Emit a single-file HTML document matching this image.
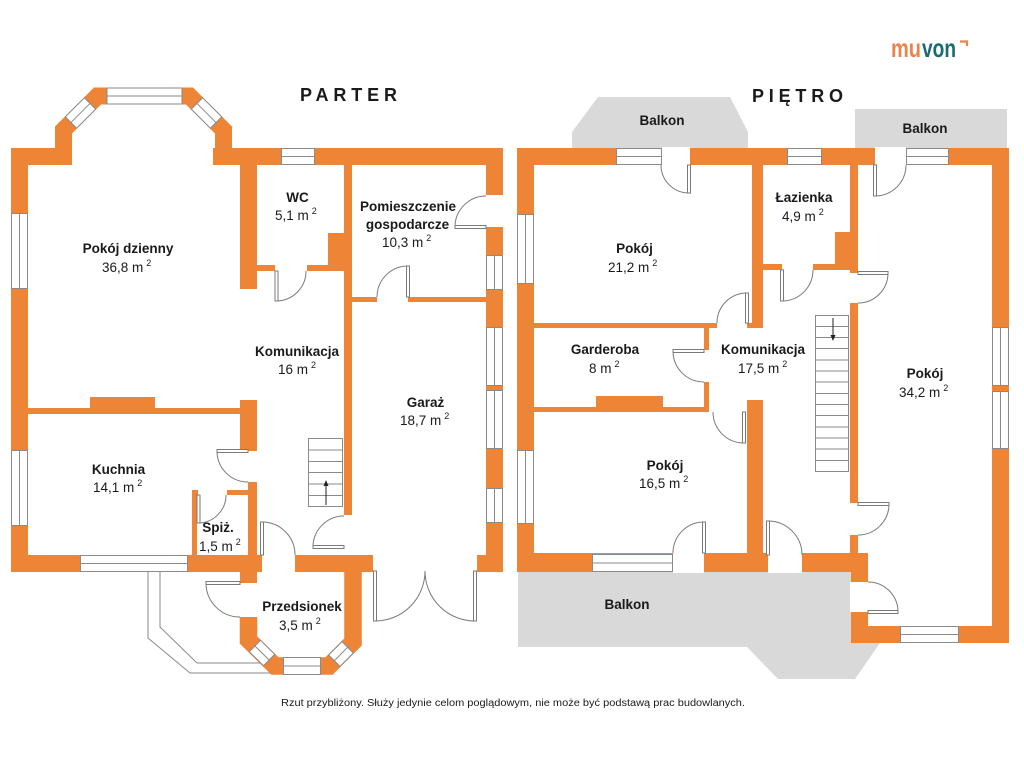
<!DOCTYPE html>
<html><head><meta charset="utf-8">
<style>
html,body{margin:0;padding:0;background:#fff;}
svg{display:block}
text{font-family:"Liberation Sans",sans-serif;fill:#1a1a1a}
.n{font-weight:bold;font-size:13.5px}
.a{font-size:13.5px}
.s{font-size:9px}
</style></head><body>
<svg width="1024" height="768" viewBox="0 0 1024 768" xmlns="http://www.w3.org/2000/svg">
<rect width="1024" height="768" fill="#fff"/>

<!-- Balconies (gray) -->
<g fill="#D9D9D9">
<polygon points="572,148 572,132 598,97 730,97 748,132 748,148"/>
<rect x="855" y="109" width="152" height="39"/>
<polygon points="518,572 851,572 851,643 880,643 855,679 778,679 747,647 518,647"/>
</g>

<!-- Terrace outline (parter) -->
<g fill="none" stroke="#8a8a8a" stroke-width="1">
<polyline points="148,572 148,638 190,673 270,673"/>
<polyline points="160,572 160,627 197,663 262,663"/>
</g>

<!-- PARTER walls -->
<g fill="#ED8436">
<rect x="11" y="148" width="17" height="424"/>
<rect x="11" y="148" width="61" height="17"/>
<rect x="213" y="148" width="290" height="17"/>
<rect x="240" y="165" width="17" height="124"/>
<rect x="344" y="165" width="8" height="350"/>
<rect x="328" y="233" width="24" height="38"/>
<rect x="257" y="265" width="18" height="6"/>
<rect x="307" y="265" width="21" height="6"/>
<rect x="352" y="297" width="25" height="5"/>
<rect x="408" y="297" width="78" height="5"/>
<rect x="486" y="148" width="17" height="424"/>
<rect x="28" y="408" width="212" height="6"/>
<rect x="90" y="397" width="65" height="11"/>
<rect x="240" y="400" width="17" height="51"/>
<rect x="248" y="482" width="9" height="73"/>
<rect x="192" y="490" width="5" height="65"/>
<rect x="192" y="490" width="6" height="5"/>
<rect x="227" y="490" width="21" height="5"/>
<rect x="11" y="555" width="69" height="17"/>
<rect x="188" y="555" width="74" height="17"/>
<rect x="295" y="555" width="78" height="17"/>
<rect x="477" y="555" width="26" height="17"/>
<rect x="240" y="572" width="17" height="11"/>
</g>
<g fill="none" stroke="#ED8436" stroke-linejoin="miter">
<path d="M63.5,165 V130 L97.5,96 H189.5 L223.5,130 V165" stroke-width="17"/>
<path d="M248.5,617 V640 L275,666 H329 L353,642 V572" stroke-width="17.5"/>
</g>

<!-- PIETRO walls -->
<g fill="#ED8436">
<rect x="517" y="148" width="17" height="424"/>
<rect x="517" y="148" width="492" height="17"/>
<rect x="752" y="165" width="11" height="163"/>
<rect x="534" y="323" width="183" height="5"/>
<rect x="747" y="323" width="16" height="5"/>
<rect x="704" y="328" width="5" height="22"/>
<rect x="704" y="382" width="5" height="30"/>
<rect x="534" y="407" width="175" height="5"/>
<rect x="596" y="396" width="67" height="11"/>
<rect x="747" y="400" width="16" height="155"/>
<rect x="517" y="553" width="351" height="19"/>
<rect x="763" y="264" width="19" height="6"/>
<rect x="813" y="264" width="37" height="6"/>
<rect x="835" y="232" width="15" height="38"/>
<rect x="850" y="165" width="8" height="390"/>
<rect x="851" y="555" width="17" height="88"/>
<rect x="851" y="626" width="158" height="17"/>
<rect x="992" y="148" width="17" height="495"/>
</g>

<!-- Door openings (white) -->
<g fill="#fff">
<rect x="486" y="195" width="17" height="32"/>
<rect x="662" y="147" width="28" height="19"/>
<rect x="875" y="147" width="31" height="19"/>
<rect x="673" y="552" width="31" height="21"/>
<rect x="768" y="552" width="34" height="21"/>
<rect x="849" y="273" width="10" height="30"/>
<rect x="849" y="503" width="10" height="32"/>
<rect x="850" y="582" width="19" height="30"/>
</g>

<!-- Windows axis aligned -->
<g fill="#fff" stroke="#8a8a8a" stroke-width="1">
<rect x="281.5" y="148.5" width="33" height="16"/><line x1="281.5" y1="156.5" x2="314.5" y2="156.5"/>
<rect x="11.5" y="213.5" width="16" height="75"/><line x1="19.5" y1="213.5" x2="19.5" y2="288.5"/>
<rect x="11.5" y="450.5" width="16" height="75"/><line x1="19.5" y1="450.5" x2="19.5" y2="525.5"/>
<rect x="486.5" y="255.5" width="16" height="34"/><line x1="494.5" y1="255.5" x2="494.5" y2="289.5"/>
<rect x="486.5" y="327.5" width="16" height="58"/><line x1="494.5" y1="327.5" x2="494.5" y2="385.5"/>
<rect x="486.5" y="390.5" width="16" height="58"/><line x1="494.5" y1="390.5" x2="494.5" y2="448.5"/>
<rect x="486.5" y="488.5" width="16" height="34"/><line x1="494.5" y1="488.5" x2="494.5" y2="522.5"/>
<rect x="80.5" y="555.5" width="107" height="16"/><line x1="80.5" y1="563.5" x2="187.5" y2="563.5"/>
<rect x="283.5" y="657.5" width="37" height="17"/><line x1="283.5" y1="666" x2="320.5" y2="666"/>
<rect x="616.5" y="148.5" width="45" height="16"/><line x1="616.5" y1="156.5" x2="661.5" y2="156.5"/>
<rect x="787.5" y="148.5" width="34" height="16"/><line x1="787.5" y1="156.5" x2="821.5" y2="156.5"/>
<rect x="906.5" y="148.5" width="42" height="16"/><line x1="906.5" y1="156.5" x2="948.5" y2="156.5"/>
<rect x="517.5" y="214.5" width="16" height="69"/><line x1="525.5" y1="214.5" x2="525.5" y2="283.5"/>
<rect x="517.5" y="450.5" width="16" height="73"/><line x1="525.5" y1="450.5" x2="525.5" y2="523.5"/>
<rect x="992.5" y="327.5" width="16" height="58"/><line x1="1000.5" y1="327.5" x2="1000.5" y2="385.5"/>
<rect x="992.5" y="391.5" width="16" height="57"/><line x1="1000.5" y1="391.5" x2="1000.5" y2="448.5"/>
<rect x="900.5" y="626.5" width="58" height="16"/><line x1="900.5" y1="634.5" x2="958.5" y2="634.5"/>
<rect x="592.5" y="554.5" width="80" height="17"/><line x1="592.5" y1="563" x2="672.5" y2="563"/>
</g>

<!-- Diagonal / bay windows -->
<g fill="#fff" stroke="#8a8a8a" stroke-width="1">
<rect x="107" y="88" width="75" height="16"/><line x1="107" y1="96" x2="182" y2="96"/>
<g transform="translate(80.5,113) rotate(-45)"><rect x="-13.5" y="-8" width="27" height="16"/><line x1="-13.5" y1="0" x2="13.5" y2="0"/></g>
<g transform="translate(206.5,113) rotate(45)"><rect x="-13.5" y="-8" width="27" height="16"/><line x1="-13.5" y1="0" x2="13.5" y2="0"/></g>
<g transform="translate(262,653) rotate(44.5)"><rect x="-10" y="-8" width="20" height="16"/><line x1="-10" y1="0" x2="10" y2="0"/></g>
<g transform="translate(341,654) rotate(-45)"><rect x="-9.5" y="-8" width="19" height="16"/><line x1="-9.5" y1="0" x2="9.5" y2="0"/></g>
</g>

<!-- Stairs -->
<g fill="#fff" stroke="#8a8a8a" stroke-width="1">
<rect x="308.5" y="438.5" width="34" height="68"/>
<line x1="308.5" y1="450" x2="342.5" y2="450"/>
<line x1="308.5" y1="461.5" x2="342.5" y2="461.5"/>
<line x1="308.5" y1="472.5" x2="342.5" y2="472.5"/>
<line x1="308.5" y1="484" x2="342.5" y2="484"/>
<line x1="308.5" y1="495.5" x2="342.5" y2="495.5"/>
<rect x="815.5" y="315.5" width="33" height="156"/>
<line x1="815.5" y1="326.5" x2="848.5" y2="326.5"/>
<line x1="815.5" y1="337.5" x2="848.5" y2="337.5"/>
<line x1="815.5" y1="348.5" x2="848.5" y2="348.5"/>
<line x1="815.5" y1="360" x2="848.5" y2="360"/>
<line x1="815.5" y1="371" x2="848.5" y2="371"/>
<line x1="815.5" y1="382" x2="848.5" y2="382"/>
<line x1="815.5" y1="393.5" x2="848.5" y2="393.5"/>
<line x1="815.5" y1="404.5" x2="848.5" y2="404.5"/>
<line x1="815.5" y1="415.5" x2="848.5" y2="415.5"/>
<line x1="815.5" y1="427" x2="848.5" y2="427"/>
<line x1="815.5" y1="438" x2="848.5" y2="438"/>
<line x1="815.5" y1="449" x2="848.5" y2="449"/>
<line x1="815.5" y1="460.5" x2="848.5" y2="460.5"/>
</g>
<g stroke="#222" stroke-width="1" fill="#222">
<line x1="326" y1="505" x2="326" y2="485"/>
<polygon points="326,480 323.5,486 328.5,486" stroke="none"/>
<line x1="833" y1="318" x2="833" y2="336"/>
<polygon points="833,341 830.5,335 835.5,335" stroke="none"/>
</g>

<!-- Door leaves -->
<g fill="#fff" stroke="#7a7a7a" stroke-width="1">
<rect x="275" y="271" width="3" height="30"/>
<rect x="455" y="225.5" width="31" height="3"/>
<rect x="406.5" y="266" width="3" height="31"/>
<rect x="217" y="449.5" width="31" height="3"/>
<rect x="197" y="495" width="3" height="28"/>
<rect x="260.5" y="522" width="3" height="33"/>
<rect x="206" y="581.5" width="34" height="3"/>
<rect x="313" y="545.5" width="31" height="3"/>
<rect x="373.5" y="571" width="3" height="50"/>
<rect x="473.5" y="571" width="3" height="50"/>
<rect x="687.5" y="165" width="3" height="28"/>
<rect x="745.5" y="293" width="3" height="30"/>
<rect x="673" y="349.5" width="31" height="3"/>
<rect x="742.5" y="412" width="3" height="31"/>
<rect x="702.5" y="522" width="3" height="31"/>
<rect x="766.5" y="521" width="3" height="34"/>
<rect x="873.5" y="165" width="3" height="31"/>
<rect x="780.5" y="270" width="3" height="31"/>
<rect x="858" y="271.5" width="30" height="3"/>
<rect x="858" y="502.5" width="31" height="3"/>
<rect x="868" y="610.5" width="30" height="3"/>
</g>
<!-- Door arcs -->
<g fill="none" stroke="#7a7a7a" stroke-width="1">
<path d="M306,271 A30,30 0 0 1 276,301"/>
<path d="M486,196 A31,31 0 0 0 455,227"/>
<path d="M408,266 A31,31 0 0 0 377,297"/>
<path d="M217,451 A31,31 0 0 0 248,482"/>
<path d="M198,523 A28,28 0 0 0 226,495"/>
<path d="M262,522 A33,33 0 0 1 295,555"/>
<path d="M206,583 A34,34 0 0 0 240,617"/>
<path d="M313,547 A31,31 0 0 1 344,516"/>
<path d="M375,621 A50,50 0 0 0 425,571"/>
<path d="M475,621 A50,50 0 0 1 425,571"/>
<path d="M689,193 A28,28 0 0 1 661,165"/>
<path d="M747,293 A30,30 0 0 0 717,323"/>
<path d="M673,351 A31,31 0 0 0 704,382"/>
<path d="M744,443 A31,31 0 0 1 713,412"/>
<path d="M704,522 A31,31 0 0 0 673,553"/>
<path d="M768,521 A34,34 0 0 1 802,555"/>
<path d="M875,196 A31,31 0 0 0 906,165"/>
<path d="M782,301 A31,31 0 0 0 813,270"/>
<path d="M888,273 A30,30 0 0 1 858,303"/>
<path d="M889,504 A31,31 0 0 1 858,535"/>
<path d="M898,612 A30,30 0 0 0 868,582"/>
</g>

<!-- Titles -->
<text x="300" y="101" font-weight="bold" font-size="18" textLength="97" lengthAdjust="spacing">PARTER</text>
<text x="752" y="102" font-weight="bold" font-size="18" textLength="91" lengthAdjust="spacing">PIĘTRO</text>

<!-- Logo -->
<text x="891" y="57" font-size="26" font-weight="bold" style="fill:#E8844E" textLength="30" lengthAdjust="spacingAndGlyphs">mu</text>
<text x="922" y="57" font-size="26" font-weight="bold" style="fill:#1B6B72" textLength="34" lengthAdjust="spacingAndGlyphs">von</text>
<path d="M960,41.5 H967 V46" fill="none" stroke="#E8844E" stroke-width="2.2"/>

<!-- Room labels PARTER -->
<text class="n" x="128" y="253" text-anchor="middle">Pokój dzienny</text>
<text class="a" x="102" y="272">36,8 m<tspan class="s" dx="3" dy="-6">2</tspan></text>
<text class="n" x="297.5" y="202" text-anchor="middle">WC</text>
<text class="a" x="275" y="220">5,1 m<tspan class="s" dx="3" dy="-6">2</tspan></text>
<text class="n" x="408" y="211" text-anchor="middle">Pomieszczenie</text>
<text class="n" x="407.5" y="229" text-anchor="middle">gospodarcze</text>
<text class="a" x="382" y="247">10,3 m<tspan class="s" dx="3" dy="-6">2</tspan></text>
<text class="n" x="297" y="356" text-anchor="middle">Komunikacja</text>
<text class="a" x="278" y="374">16 m<tspan class="s" dx="3" dy="-6">2</tspan></text>
<text class="n" x="425.5" y="407" text-anchor="middle">Garaż</text>
<text class="a" x="400" y="425">18,7 m<tspan class="s" dx="3" dy="-6">2</tspan></text>
<text class="n" x="118.5" y="474" text-anchor="middle">Kuchnia</text>
<text class="a" x="93" y="492">14,1 m<tspan class="s" dx="3" dy="-6">2</tspan></text>
<text class="n" x="218" y="532" text-anchor="middle">Spiż.</text>
<text class="a" x="199" y="551">1,5 m<tspan class="s" dx="3" dy="-6">2</tspan></text>
<text class="n" x="302" y="611" text-anchor="middle">Przedsionek</text>
<text class="a" x="279" y="630">3,5 m<tspan class="s" dx="3" dy="-6">2</tspan></text>

<!-- Room labels PIETRO -->
<text class="n" x="662" y="125" text-anchor="middle">Balkon</text>
<text class="n" x="925" y="133" text-anchor="middle">Balkon</text>
<text class="n" x="627" y="609" text-anchor="middle">Balkon</text>
<text class="n" x="634.5" y="253" text-anchor="middle">Pokój</text>
<text class="a" x="608" y="272">21,2 m<tspan class="s" dx="3" dy="-6">2</tspan></text>
<text class="n" x="804" y="202" text-anchor="middle">Łazienka</text>
<text class="a" x="782" y="221">4,9 m<tspan class="s" dx="3" dy="-6">2</tspan></text>
<text class="n" x="605" y="354" text-anchor="middle">Garderoba</text>
<text class="a" x="589" y="373">8 m<tspan class="s" dx="3" dy="-6">2</tspan></text>
<text class="n" x="763" y="354" text-anchor="middle">Komunikacja</text>
<text class="a" x="738" y="373">17,5 m<tspan class="s" dx="3" dy="-6">2</tspan></text>
<text class="n" x="665" y="470" text-anchor="middle">Pokój</text>
<text class="a" x="639" y="488">16,5 m<tspan class="s" dx="3" dy="-6">2</tspan></text>
<text class="n" x="925" y="378" text-anchor="middle">Pokój</text>
<text class="a" x="899" y="397">34,2 m<tspan class="s" dx="3" dy="-6">2</tspan></text>

<!-- Footer -->
<text x="281" y="706" font-size="10" textLength="464" lengthAdjust="spacingAndGlyphs">Rzut przybliżony. Służy jedynie celom poglądowym, nie może być podstawą prac budowlanych.</text>
</svg>
</body></html>
